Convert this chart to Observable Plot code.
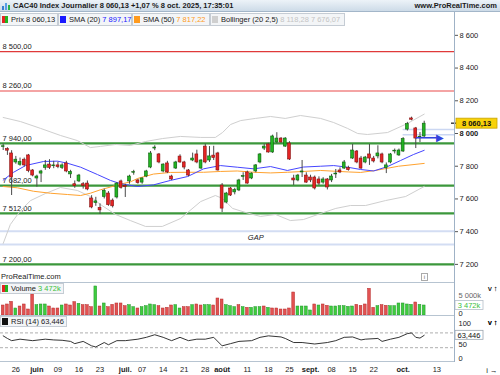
<!DOCTYPE html>
<html><head><meta charset="utf-8">
<script src="https://cdn.jsdelivr.net/npm/d3@7"></script>
<script src="https://cdn.jsdelivr.net/npm/@observablehq/plot@0.6"></script>
<style>
body{margin:0;background:#fff;}
#root{position:relative;width:500px;height:375px;overflow:hidden;font-family:"Liberation Sans",Arial,sans-serif;color:#1a1a1a;font-size:7.5px;}
.abs{position:absolute;}
#titlebar{left:0;top:0;width:500px;height:11px;background:linear-gradient(#edf3f8,#cddbe8);border-bottom:1px solid #a3b6c9;}
.ttl{left:13px;top:0;font-weight:bold;line-height:11px;white-space:nowrap;}
.site{right:3px;top:0;font-weight:bold;line-height:11px;}
.box{top:13px;height:13px;background:#f3f5f7;border:1px solid #c5ccd4;box-sizing:border-box;line-height:11px;white-space:nowrap;}
.sq{display:inline-block;width:6px;height:7px;vertical-align:-1px;margin:0 3px 0 1px;}
.sep{left:0;width:454px;height:1px;background:#b7c4d1;}
.lbox{left:0;height:11px;background:#f3f5f7;border:1px solid #c5ccd4;box-sizing:border-box;line-height:9px;white-space:nowrap;padding-right:2px;}
</style></head><body><div id="root"></div>
<script>
// ---------- data ----------
const openP = [7918,7905,7878,7823,7809,7840,7866,7774,7725,7755,
 7790,7810,7800,7805,7790,7817,7750,7690,7707,7690,
 7694,7603,7575,7545,7612,7633,7590,7609,7707,7680,
 7707,7760,7713,7700,7737,7792,7908,7872,7768,7817,
 7737,7786,7859,7823,7774,7835,7872,7786,7920,7835,
 7865,7878,7682,7578,7664,7640,7652,7735,7762,7725,
 7768,7823,7908,7933,7884,7945,7969,7920,7939,7725,
 7713,7762,7743,7731,7731,7719,7700,7719,7713,7750,
 7774,7786,7788,7847,7890,7847,7823,7872,7847,7860,
 7872,7790,7823,7890,7866,7890,8024,8092,8031,7975,
 7982];
const highP = [7935,7913,7895,7860,7850,7850,7872,7780,7745,7775,
 7835,7840,7830,7825,7815,7830,7775,7710,7750,7700,
 7710,7620,7610,7570,7660,7645,7600,7700,7715,7690,
 7745,7775,7720,7730,7775,7890,7925,7878,7815,7830,
 7745,7830,7870,7830,7780,7880,7898,7840,7935,7920,
 7922,7885,7694,7640,7670,7665,7720,7760,7770,7760,
 7810,7878,7935,7940,7990,8005,7975,7975,7950,7745,
 7750,7835,7760,7745,7740,7735,7730,7725,7750,7780,
 7790,7835,7800,7933,7896,7860,7860,7933,7860,7925,
 7880,7820,7878,7905,7905,7975,8068,8100,8037,8006,
 8075];
const lowP = [7896,7866,7621,7812,7800,7795,7760,7735,7672,7700,
 7775,7780,7785,7785,7780,7760,7725,7665,7700,7660,
 7650,7540,7555,7505,7600,7555,7545,7600,7660,7609,
 7690,7745,7690,7690,7730,7785,7895,7815,7760,7755,
 7713,7780,7818,7778,7735,7828,7815,7780,7815,7823,
 7835,7770,7517,7570,7615,7625,7645,7713,7690,7718,
 7760,7815,7896,7880,7878,7938,7940,7915,7835,7682,
 7705,7731,7695,7700,7655,7682,7690,7655,7700,7725,
 7755,7780,7770,7841,7815,7780,7815,7805,7820,7845,
 7815,7755,7815,7875,7860,7884,8015,8078,7908,7945,
 7975];
const closeP = [7922,7895,7731,7840,7825,7805,7770,7743,7737,7768,
 7805,7790,7805,7795,7805,7768,7765,7678,7743,7680,
 7658,7548,7585,7530,7650,7562,7555,7694,7668,7672,
 7737,7764,7697,7725,7768,7878,7914,7823,7810,7762,
 7719,7823,7823,7792,7743,7847,7823,7835,7823,7860,
 7850,7774,7541,7633,7621,7655,7713,7740,7694,7755,
 7805,7872,7920,7884,7982,7969,7945,7969,7841,7713,
 7743,7768,7700,7713,7664,7694,7719,7670,7737,7755,
 7762,7823,7776,7896,7823,7786,7853,7847,7829,7878,
 7823,7805,7872,7895,7896,7966,8057,8084,7969,7980,
 8060.13];
const volumeK = [3470,3820,4740,2430,3120,3820,2080,7290,3590,3820,
 3820,3120,2430,2430,3470,3820,3470,4630,4050,3590,
 3590,2890,10070,3120,4170,2890,3700,4170,4170,3240,
 3590,2890,2430,2890,3240,3820,3590,3240,2430,2660,
 3470,3590,2430,2890,2890,3590,3820,3470,3590,3590,
 3470,5900,5550,3590,3240,2890,3590,2890,2660,2660,
 2890,2890,3120,2660,2430,2430,2080,2080,2430,7980,
 3120,3120,3120,1740,3820,3470,3820,3360,3120,3120,
 3240,3240,3010,3120,3700,3360,3820,9260,2660,3240,
 3590,3360,3240,3240,4170,4170,3820,3700,4510,3700,
 3472];
const volumeUp = [0,0,0,1,0,0,0,0,1,1, 1,0,0,0,1,0,0,0,1,0, 0,0,1,0,1,0,0,0,0,0,
 1,1,0,1,1,1,1,0,0,0, 0,1,1,0,0,1,0,0,1,1, 0,0,0,1,1,1,0,1,0,1,
 1,1,0,1,0,0,0,0,0,0, 1,1,1,1,0,1,0,0,1,1, 1,1,1,1,0,0,0,0,0,1,
 0,0,1,1,1,1,1,1,0,1, 1];
// indicator readings (trading-day index, value)
const sma20Idx = [0,2.4,5.3,9.6,12.9,15.3,18.4,22.4,25.5,27.9,31.9,35.7,39.7,43.8,47.6,51.6,55.6,59.5,63.5,67.5,71.3,75.4,78.5,81.8,84.9,88,91.3,94.4,97.5,100];
const sma20Val = [7715,7762,7804,7829,7831,7818,7794,7749,7713,7693,7676,7686,7713,7737,7784,7804,7794,7784,7798,7774,7795,7800,7804,7794,7780,7771,7798,7835,7872,7897.17];
const sma50Idx = [0,3.4,7.2,11.2,15.3,18.4,20.7,23.1,25.5,27.9,30.2,31.9,35.7,39.7,43.8,47.6,51.6,55.6,59.5,63.5,67.5,71.3,75.4,82,84.9,88.4,93.9,100];
const sma50Val = [7676,7668,7647,7635,7627,7621,7635,7656,7673,7691,7704,7725,7752,7762,7763,7763,7768,7771,7763,7759,7763,7768,7774,7765,7762,7774,7800,7817.22];
const bollUpIdx = [0,4.1,8.9,13.6,17.6,20.7,23.1,26.7,30.2,33.8,37.8,42.1,46.9,50.4,52.1,54,56.4,59.9,63.5,67,70.6,75.4,78.5,81.8,84.2,86.5,91.3,96,100];
const bollUpVal = [8098,8073,8031,7988,7957,7914,7921,7933,7927,7951,7969,7982,7976,7976,8006,8055,8079,8092,8104,8092,8110,8092,8067,8031,8000,7994,8006,8061,8118.28];
const bollLoIdx = [0,1.7,4.1,6.5,10,13.6,17.6,20.7,23.1,26.7,30.2,33.8,37.8,42.1,46.9,50.4,52.1,54.5,57.6,61.1,64.7,68.2,71.3,75.4,79,82.5,86.1,90.8,95.6,100];
const bollLoVal = [7328,7444,7529,7590,7633,7670,7652,7615,7566,7505,7468,7432,7432,7480,7584,7621,7603,7542,7517,7493,7505,7468,7474,7511,7542,7560,7560,7590,7615,7676.07];
const rsiIdx = [0,1,2,4,7,10,12,14,16,17,19,21,22,24,25,27,29,32,34,36,38,40,42,44,46,48,50,52,54,56,59,61,63,66,67,69,71,74,77,79,81,83,85,86,89,90,92,94,96,97,98,99,100];
const rsiVal = [62,55,49,53,49,53,51,50,47,41,47,35,32,44,38,49,49,53,58,65,58,49,58,49,53,53,58,35,41,47,49,58,62,59,55,44,44,40,44,49,58,59,51,53,55,47,53,58,68,70,58,56,63.446];
// levels and annotations
const levels = [8500, 8260, 7940, 7682, 7512, 7200];
const levelLabels = ["8 500,00","8 260,00","7 940,00","7 682,00","7 512,00","7 200,00"];
const gapLevels = [7403, 7321];
const recentGapLevels = [8025, 7993];
const recentGapStart = 95;
const gapText = "GAP";
const gapTextIdx = 60;
const arrowFrom = 98, arrowTo = 103, arrowPrice = 7974;
// ticks
const priceTicks = [7200,7400,7600,7800,8000,8200,8400,8600];
const priceTickLabels = ["7 200","7 400","7 600","7 800","8 000","8 200","8 400","8 600"];
const volTicks = [0, 5000];
const volTickLabels = ["0", "5 000k"];
const rsiTicks = [0, 50, 100];
const rsiTickLabels = ["0", "50", "100"];
const dateTickIdx = [3,8,13,18,23,29,33,38,43,48,52,58,63,68,73,78,83,88,95,103];
const dateTickLabels = ["26","juin","09","16","23","juil.","07","14","21","28","août","11","18","25","sept.","08","15","22","oct.","13"];
const monthLabels = ["juin","juil.","août","sept.","oct."];
// legend texts
const titleText = "CAC40 Index Journalier 8 060,13 +1,07 % 8 oct. 2025, 17:35:01";
const lastClose = closeP[closeP.length-1];
const lastCloseLabel = "8 060,13";
const lastVolLabel = "3 472k";
const lastRsi = rsiVal[rsiVal.length-1];
const lastRsiLabel = "63,446";

// ---------- layout ----------
const root = document.getElementById("root");
function el(tag, cls, css, html){const e=document.createElement(tag); if(cls)e.className=cls; if(css)e.style.cssText=css; if(html!==undefined)e.innerHTML=html; root.appendChild(e); return e;}

const xDomain = [-0.641, 107.2];
const UP = "#22b422", UPS = "#0f5f0f", DN = "#e42424", DNS = "#861010";
const font = {fontFamily: '"Liberation Sans", Arial, sans-serif', fontSize: "7.5px", color: "#1a1a1a", background: "transparent", overflow: "visible"};
const candles = closeP.map((c,i)=>({i, o: openP[i], h: highP[i], l: lowP[i], c}));
const pts = (idx, val) => idx.map((i,k)=>({i, v: val[k]}));

function addTag(svg, x, y, w, h, text, fill, stroke, color, weight){
  const g = d3.select(svg).append("g");
  g.append("rect").attr("x",x).attr("y",y-h/2).attr("width",w).attr("height",h).attr("fill",fill).attr("stroke",stroke).attr("stroke-width",0.8);
  g.append("text").attr("x",x+w/2).attr("y",y).attr("dy","0.36em").attr("text-anchor","middle")
   .attr("font-size","7.5px").attr("font-weight",weight).attr("fill",color).text(text);
}

// Price panel
const pricePlot = Plot.plot({
  width: 500, height: 254, marginTop: 0, marginBottom: 0, marginLeft: 0, marginRight: 46,
  style: font,
  x: {domain: xDomain, axis: null},
  y: {domain: [7089.3, 8641.8], axis: null},
  color: {type: "identity"},
  marks: [
    Plot.ruleY(gapLevels, {stroke: "#d3ddf3", strokeWidth: 2}),
    Plot.ruleY(recentGapLevels, {x1: recentGapStart, x2: xDomain[1], stroke: "#cbd7f2", strokeWidth: 1.5}),
    Plot.ruleY(levels.filter(d=>d===8500), {stroke: "#e03a3a", strokeWidth: 1.2}),
    Plot.ruleY(levels.filter(d=>d===8260), {stroke: "#f4a4a4", strokeWidth: 2}),
    Plot.ruleY(levels.filter(d=>d<8000), {stroke: "#3b973b", strokeWidth: 2.2}),
    Plot.text(levels, {x: xDomain[0], y: d=>d, text: (d,i)=>levelLabels[i], dx: 2, dy: -5, textAnchor: "start", fill: "#222"}),
    Plot.text([gapText], {x: gapTextIdx, y: (gapLevels[0]+gapLevels[1])/2, text: d=>d, fontStyle: "italic", fill: "#222"}),
    Plot.line(pts(bollUpIdx, bollUpVal), {x: "i", y: "v", stroke: "#cfcfcf", strokeWidth: 1}),
    Plot.line(pts(bollLoIdx, bollLoVal), {x: "i", y: "v", stroke: "#cfcfcf", strokeWidth: 1}),
    Plot.line(pts(sma50Idx, sma50Val), {x: "i", y: "v", stroke: "#ffa22e", strokeWidth: 1}),
    Plot.line(pts(sma20Idx, sma20Val), {x: "i", y: "v", stroke: "#4646ff", strokeWidth: 1}),
    Plot.ruleX(candles, {x: "i", y1: "l", y2: "h", stroke: "#4a4a4a", strokeWidth: 1}),
    Plot.rect(candles, {x1: d=>d.i-0.34, x2: d=>d.i+0.34, y1: "o", y2: "c",
      fill: d=>d.c>=d.o?UP:DN, stroke: d=>d.c>=d.o?UPS:DNS, strokeWidth: 0.6}),
    Plot.link([arrowPrice], {x1: arrowFrom, x2: arrowTo, y1: d=>d, y2: d=>d, stroke: "#3343dd", strokeWidth: 1.6}),
    Plot.text([arrowPrice], {x: arrowTo, y: d=>d, text: ()=>"▶", fill: "#3343dd", fontSize: 10, textAnchor: "start", dx: -1}),
    Plot.axisY({anchor: "right", ticks: priceTicks, tickFormat: d=>priceTickLabels[priceTicks.indexOf(d)], tickSize: 3, tickPadding: 2, stroke: "#555"})
  ]
});
const pwrap = el("div","abs","left:0;top:28px;width:500px;height:254px;");
pwrap.appendChild(pricePlot);
{
  const ys = pricePlot.scale("y");
  const yv = ys.apply(lastClose);
  d3.select(pricePlot).selectAll("text").filter(function(){return this.textContent==="8 000";}).attr("font-weight","bold");
  d3.select(pricePlot).append("line").attr("x1",451).attr("x2",457).attr("y1",yv).attr("y2",yv).attr("stroke","#111").attr("stroke-width",1.2);
  addTag(pricePlot, 456, yv, 41, 10, lastCloseLabel, "#f8d20a", "#c9a400", "#111", "bold");
}

// Volume panel
const volData = volumeK.map((v,i)=>({i, v, up: volumeUp[i]}));
const volPlot = Plot.plot({
  width: 500, height: 34, marginTop: 0, marginBottom: 1, marginLeft: 0, marginRight: 46,
  style: font,
  x: {domain: xDomain, axis: null},
  y: {domain: [0, 11451], axis: null},
  color: {type: "identity"},
  marks: [
    Plot.rect(volData, {x1: d=>d.i-0.33, x2: d=>d.i+0.33, y1: 0, y2: "v",
      fill: d=>d.up?"#3fcc3f":"#e25252", stroke: d=>d.up?"#22952a":"#b52a2a", strokeWidth: 0.5}),
    Plot.axisY({anchor: "right", ticks: volTicks.slice(1), tickFormat: d=>volTickLabels[volTicks.indexOf(d)], tickSize: 0, tickPadding: 4, dy: -5, fill: "#666"}),
    Plot.axisY({anchor: "right", ticks: volTicks.slice(0,1), tickFormat: d=>volTickLabels[volTicks.indexOf(d)], tickSize: 0, tickPadding: 4, dy: -1.5, fill: "#222"})
  ]
});
const vwrap = el("div","abs","left:0;top:282px;width:500px;height:34px;");
vwrap.appendChild(volPlot);
addTag(volPlot, 455, volPlot.scale("y").apply(volumeK[volumeK.length-1]), 28, 9, lastVolLabel, "#ffffff", "#b5bec8", "#3cc03c", "normal");

// RSI panel
const rsiPlot = Plot.plot({
  width: 500, height: 59, marginTop: 0, marginBottom: 13, marginLeft: 0, marginRight: 46,
  style: font,
  x: {domain: xDomain, axis: null},
  y: {domain: [-10, 114.3], axis: null},
  marks: [
    Plot.ruleY([30, 70], {stroke: "#9a9a9a", strokeDasharray: "3,2", strokeWidth: 0.8}),
    Plot.line(pts(rsiIdx, rsiVal), {x: "i", y: "v", stroke: "#1e1e1e", strokeWidth: 0.9}),
    Plot.axisY({anchor: "right", ticks: [100], tickFormat: d=>rsiTickLabels[rsiTicks.indexOf(d)], tickSize: 0, tickPadding: 4, dy: 2}),
    Plot.axisY({anchor: "right", ticks: [0], tickFormat: d=>rsiTickLabels[rsiTicks.indexOf(d)], tickSize: 0, tickPadding: 4}),
    Plot.axisY({anchor: "right", ticks: [50], tickFormat: d=>rsiTickLabels[rsiTicks.indexOf(d)], tickSize: 0, tickPadding: 4, dy: 4}),
    Plot.axisX({anchor: "bottom", ticks: dateTickIdx, tickFormat: d=>dateTickLabels[dateTickIdx.indexOf(d)], tickSize: 0, tickPadding: 4})
  ]
});
const rwrap = el("div","abs","left:0;top:316px;width:500px;height:59px;");
rwrap.appendChild(rsiPlot);
d3.select(rsiPlot).selectAll("text").filter(function(){return monthLabels.includes(this.textContent);}).attr("font-weight","bold");
addTag(rsiPlot, 455, rsiPlot.scale("y").apply(lastRsi), 28, 9, lastRsiLabel, "#ffffff", "#9aa4ae", "#111", "normal");

// frame lines
el("div","abs sep","top:282px;");
el("div","abs sep","top:315px;");
el("div","abs sep","top:361px;");
el("div","abs","left:454px;top:12px;width:1px;height:350px;background:#9fb2c6;");

// header
el("div","abs","", "").id = "titlebar";
document.getElementById("titlebar").className = "abs";
el("div","abs","left:2px;top:2px;width:8px;height:8px;",
  '<span style="position:absolute;left:0;top:4px;width:2px;height:4px;background:#3a7fd0"></span><span style="position:absolute;left:3px;top:1px;width:2px;height:7px;background:#5aa0e6"></span><span style="position:absolute;left:6px;top:3px;width:2px;height:5px;background:#2bb24a"></span>');
el("div","abs ttl","", titleText);
el("div","abs site","", "www.ProRealTime.com");
el("div","abs box","left:0;width:58px;",
  '<span class="sq" style="background:linear-gradient(90deg,#e42424 50%,#22b422 50%)"></span>Prix 8 060,13');
el("div","abs box","left:58px;width:74px;",
  '<span class="sq" style="background:#1a1aff"></span>SMA (20) <span style="color:#1a1aff">7 897,17</span>');
el("div","abs box","left:132px;width:78px;",
  '<span class="sq" style="background:#ff9b1e"></span>SMA (50) <span style="color:#ff9b1e">7 817,22</span>');
el("div","abs box","left:210px;width:135px;",
  '<span class="sq" style="background:#cfcfcf"></span>Bollinger (20 2,5) <span style="color:#c4c4c4">8 118,28 7 676,07</span>');
// panel legends / footer
el("div","abs","left:1px;top:272px;line-height:10px;", "ProRealTime.com");
el("div","abs","left:421px;top:273px;width:7px;height:8px;border:1px solid #aaa;box-sizing:border-box;font-size:6px;line-height:6px;text-align:center;color:#666;", "i");
el("div","abs lbox","top:283px;",
  '<span class="sq" style="background:linear-gradient(90deg,#e42424 50%,#22b422 50%)"></span>Volume <span style="color:#3cc03c">3 472k</span>');
el("div","abs lbox","top:316px;",
  '<span class="sq" style="background:#111"></span>RSI (14) 63,446');
</script></body></html>
